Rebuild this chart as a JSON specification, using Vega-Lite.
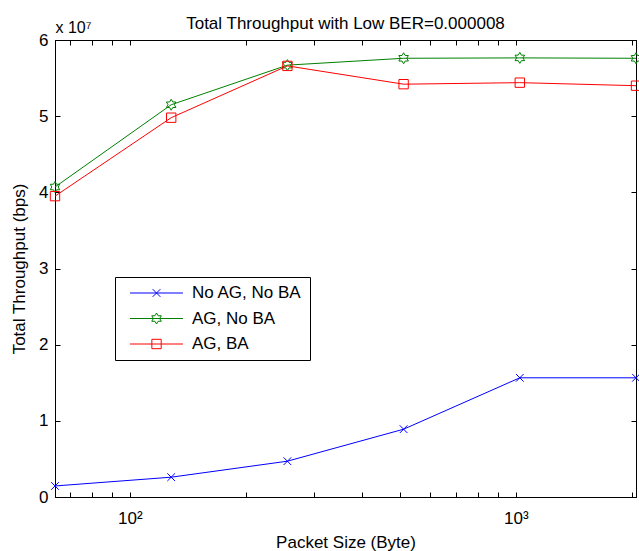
{
  "$schema": "https://vega.github.io/schema/vega-lite/v6.json",
  "width": 581,
  "height": 457,
  "autosize": {"type": "none"},
  "padding": {"left": 55, "top": 40, "right": 3, "bottom": 54},
  "background": "white",
  "config": {
    "font": "Liberation Sans",
    "view": {"stroke": "black", "strokeWidth": 1},
    "axis": {
      "domainColor": "black", "tickColor": "black", "labelColor": "black", "titleColor": "black",
      "labelFont": "Liberation Sans", "titleFont": "Liberation Sans",
      "labelFontSize": 17, "titleFontSize": 17, "titleFontWeight": "normal",
      "grid": false, "tickSize": -5, "domainWidth": 1, "tickWidth": 1
    },
    "legend": {
      "title": null, "orient": "none", "legendX": 60, "legendY": 237, "direction": "vertical",
      "strokeColor": "black", "fillColor": "white", "padding": 7.5,
      "labelFontSize": 17, "labelFont": "Liberation Sans", "labelColor": "black",
      "symbolSize": 121, "labelOffset": 52.5, "rowPadding": 7.5, "symbolStrokeWidth": 1,
      "symbolOpacity": 1
    }
  },
  "title": {
    "text": "Total Throughput with Low BER=0.000008",
    "fontSize": 17, "fontWeight": "normal", "font": "Liberation Sans", "color": "black",
    "anchor": "middle", "offset": -14
  },
  "data": {
    "values": [
      {"size": 64, "series": "No AG, No BA", "throughput": 1450000},
      {"size": 128, "series": "No AG, No BA", "throughput": 2600000},
      {"size": 256, "series": "No AG, No BA", "throughput": 4700000},
      {"size": 512, "series": "No AG, No BA", "throughput": 8900000},
      {"size": 1024, "series": "No AG, No BA", "throughput": 15650000},
      {"size": 2048, "series": "No AG, No BA", "throughput": 15650000},
      {"size": 64, "series": "AG, No BA", "throughput": 40700000},
      {"size": 128, "series": "AG, No BA", "throughput": 51500000},
      {"size": 256, "series": "AG, No BA", "throughput": 56700000},
      {"size": 512, "series": "AG, No BA", "throughput": 57600000},
      {"size": 1024, "series": "AG, No BA", "throughput": 57650000},
      {"size": 2048, "series": "AG, No BA", "throughput": 57600000},
      {"size": 64, "series": "AG, BA", "throughput": 39500000},
      {"size": 128, "series": "AG, BA", "throughput": 49800000},
      {"size": 256, "series": "AG, BA", "throughput": 56600000},
      {"size": 512, "series": "AG, BA", "throughput": 54200000},
      {"size": 1024, "series": "AG, BA", "throughput": 54400000},
      {"size": 2048, "series": "AG, BA", "throughput": 54000000}
    ]
  },
  "layer": [
    {
      "mark": {"type": "line", "strokeWidth": 1},
      "encoding": {
        "x": {
          "field": "size", "type": "quantitative",
          "scale": {"type": "log", "domain": [64, 2048], "nice": false},
          "axis": {
            "orient": "bottom", "title": "Packet Size (Byte)",
            "values": [70, 80, 90, 100, 200, 300, 400, 500, 600, 700, 800, 900, 1000, 2000],
            "labelExpr": "datum.value == 100 ? '10²' : datum.value == 1000 ? '10³' : ''",
            "labelOverlap": false, "labelPadding": 18,
            "titleY": 50, "titleBaseline": "alphabetic",
            "encode": {"ticks": {"update": {"y2": {"signal": "(datum.value == 100 || datum.value == 1000) ? -5 : -3"}}}}
          }
        },
        "y": {
          "field": "throughput", "type": "quantitative",
          "scale": {"domain": [0, 60000000], "nice": false},
          "axis": {
            "orient": "left", "title": "Total Throughput (bps)",
            "values": [0, 10000000, 20000000, 30000000, 40000000, 50000000, 60000000],
            "labelExpr": "format(datum.value / 10000000, 'd')",
            "labelPadding": 12, "titleX": -31, "titleBaseline": "alphabetic"
          }
        },
        "color": {
          "field": "series", "type": "nominal",
          "scale": {"domain": ["No AG, No BA", "AG, No BA", "AG, BA"], "range": ["#0000ff", "#008000", "#ff0000"]},
          "legend": null
        }
      }
    },
    {
      "mark": {"type": "point", "filled": false, "strokeWidth": 1, "size": 121, "opacity": 1},
      "encoding": {
        "x": {
          "field": "size", "type": "quantitative",
          "scale": {"type": "log", "domain": [64, 2048], "nice": false},
          "axis": {
            "orient": "top", "title": "x 10⁷",
            "values": [70, 80, 90, 100, 200, 300, 400, 500, 600, 700, 800, 900, 1000, 2000],
            "labels": false, "titleFontSize": 16,
            "titleX": 0, "titleY": -8, "titleAngle": 0, "titleAlign": "left", "titleBaseline": "alphabetic",
            "encode": {"ticks": {"update": {"y2": {"signal": "(datum.value == 100 || datum.value == 1000) ? 5 : 3"}}}}
          }
        },
        "y": {
          "field": "throughput", "type": "quantitative",
          "scale": {"domain": [0, 60000000], "nice": false},
          "axis": {
            "orient": "right", "title": null, "labels": false,
            "values": [0, 10000000, 20000000, 30000000, 40000000, 50000000, 60000000]
          }
        },
        "color": {
          "field": "series", "type": "nominal",
          "scale": {"domain": ["No AG, No BA", "AG, No BA", "AG, BA"], "range": ["#0000ff", "#008000", "#ff0000"]},
          "legend": null
        },
        "shape": {
          "field": "series", "type": "nominal",
          "scale": {
            "domain": ["No AG, No BA", "AG, No BA", "AG, BA"],
            "range": [
              "M-0.7,-0.7L0.7,0.7M-0.7,0.7L0.7,-0.7",
              "M0,-1L0.289,-0.5L0.866,-0.5L0.577,0L0.866,0.5L0.289,0.5L0,1L-0.289,0.5L-0.866,0.5L-0.577,0L-0.866,-0.5L-0.289,-0.5Z",
              "M-0.85,-0.85H0.85V0.85H-0.85Z"
            ]
          },
          "legend": null
        }
      }
    },
    {
      "mark": {"type": "point", "filled": false, "strokeWidth": 1, "size": 121, "opacity": 0},
      "encoding": {
        "x": {"field": "size", "type": "quantitative", "scale": {"type": "log", "domain": [64, 2048], "nice": false}, "axis": null},
        "y": {"field": "throughput", "type": "quantitative", "scale": {"domain": [0, 60000000], "nice": false}, "axis": null},
        "color": {
          "field": "series", "type": "nominal",
          "scale": {"domain": ["No AG, No BA", "AG, No BA", "AG, BA"], "range": ["#0000ff", "#008000", "#ff0000"]},
          "legend": {"title": null}
        },
        "shape": {
          "field": "series", "type": "nominal",
          "scale": {
            "domain": ["No AG, No BA", "AG, No BA", "AG, BA"],
            "range": [
              "M-0.18,0H9.45M3.94,-0.7L5.34,0.7M3.94,0.7L5.34,-0.7",
              "M-0.18,0H9.45M4.64,-1L4.929,-0.5L5.506,-0.5L5.217,0L5.506,0.5L4.929,0.5L4.64,1L4.351,0.5L3.774,0.5L4.063,0L3.774,-0.5L4.351,-0.5Z",
              "M-0.18,0H9.45M3.79,-0.85H5.49V0.85H3.79Z"
            ]
          },
          "legend": {"title": null}
        }
      }
    }
  ],
  "resolve": {
    "axis": {"x": "independent", "y": "independent"},
    "scale": {"color": "independent", "shape": "independent"}
  }
}
